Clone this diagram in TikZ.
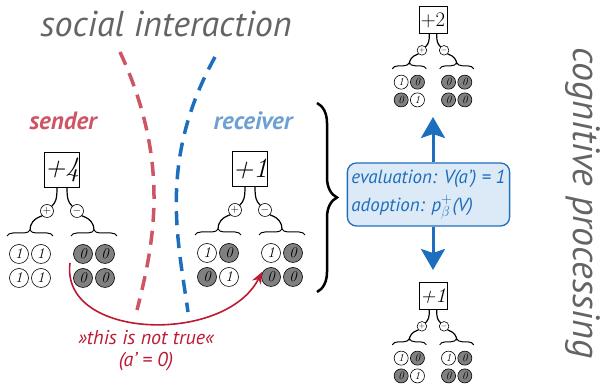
\documentclass[tikz,border=0pt]{standalone}
\usepackage{fontspec}
\setsansfont{PT Sans}
\usetikzlibrary{arrows.meta, decorations.pathreplacing}

\definecolor{talkgray}{RGB}{100,100,100}
\definecolor{sendred}{RGB}{205,85,100}
\definecolor{recvblue}{RGB}{110,160,210}
\definecolor{procblue}{RGB}{30,110,190}
\definecolor{liered}{RGB}{190,25,50}
\definecolor{boxfill}{RGB}{220,233,246}
\colorlet{bitfill0}{black!50}
\colorlet{bitfill1}{white}

\tikzset{
  score/.style={draw, line width=0.8pt, minimum width=34pt, minimum height=35pt, inner sep=0pt, font=\fontsize{28}{28}\selectfont},
  sign/.style={draw, circle, fill=white, minimum size=13pt, inner sep=0pt, line width=0.6pt, font=\fontsize{11}{11}\selectfont},
  bit/.style={draw, circle, fill=bitfill#1, minimum size=19pt, inner sep=0pt, line width=0.6pt, font=\fontsize{15}{15}\selectfont\itshape},
  stem/.style={line width=1.2pt},
  group/.style={decorate, decoration={brace, amplitude=6pt}, line width=1pt},
  big/.style={font=\fontsize{36}{36}\selectfont\sffamily\itshape, text=talkgray},
  role/.style={font=\fontsize{25}{25}\selectfont\sffamily\itshape\bfseries},
  say/.style={font=\fontsize{19}{27}\selectfont\sffamily\itshape},
}

% #1 name, #2 score, #3 upper row, #4 lower row
\newcommand{\valtree}[4]{%
  \node[score] (#1) at (0,0) {#2};
  \node[sign] (#1p) at (-15,-41) {$+$};
  \node[sign] (#1m) at (15,-41) {$-$};
  \coordinate (#1bp) at (-32,-60);
  \coordinate (#1bm) at (32,-60);
  \draw[stem] ([xshift=-5pt]#1.south) .. controls +(0,-11) and +(4,4) .. (#1p.north east);
  \draw[stem] ([xshift=5pt]#1.south) .. controls +(0,-11) and +(-4,4) .. (#1m.north west);
  \draw[stem] (#1p.south west) .. controls +(-9,-3) and +(0,6) .. (#1bp);
  \draw[stem] (#1m.south east) .. controls +(9,-3) and +(0,6) .. (#1bm);
  \draw[group] (-55,-66) -- (-9,-66);
  \draw[group] (9,-66) -- (55,-66);
  \foreach \v [count=\i] in {#3} {
    \pgfmathsetmacro\cx{{-43,-21,21,43}[\i-1]}
    \node[bit=\v] (#1a\i) at (\cx,-84) {\v};
  }
  \foreach \v [count=\i] in {#4} {
    \pgfmathsetmacro\cx{{-43,-21,21,43}[\i-1]}
    \node[bit=\v] (#1b\i) at (\cx,-108) {\v};
  }
}

\begin{document}
\begin{tikzpicture}[x=1pt, y=1pt]
    \useasboundingbox (0,0) rectangle (603,387);

    \node[big, anchor=base] (social) at (166,350) {social interaction};
    \node[big, rotate=-90, font=\fontsize{38}{38}\selectfont\sffamily\itshape] (cognitive) at (583,184) {cognitive processing};
    \node[role, text=sendred, anchor=base] (sender) at (63,257) {sender};
    \node[role, text=recvblue, anchor=base] (receiver) at (253,257) {receiver};

    \draw[sendred, line width=3.5pt, dash pattern=on 14pt off 9pt]
      (120,335) .. controls (170,227) and (155,147) .. (137,77);
    \draw[procblue, line width=3.5pt, dash pattern=on 14pt off 9pt]
      (215,330) .. controls (158,227) and (178,147) .. (188,75);

    \begin{scope}[shift={(62,217)}]
      \valtree{snd}{\textit{+4}}{1,1,0,0}{1,1,0,0}
    \end{scope}
    \begin{scope}[shift={(250,218)}]
      \valtree{rcv}{\textit{+1}}{1,0,1,0}{0,1,0,0}
    \end{scope}
    \begin{scope}[shift={(433,367)}, scale=0.74, transform shape, score/.append style={minimum width=38pt, minimum height=37pt}]
      \valtree{up}{+2}{1,0,0,0}{0,1,0,0}
    \end{scope}
    \begin{scope}[shift={(433,91)}, scale=0.74, transform shape, score/.append style={minimum width=38pt, minimum height=37pt}]
      \valtree{dn}{\textit{+1}}{1,0,1,0}{0,1,0,0}
    \end{scope}

    \draw[decorate, decoration={brace, amplitude=20pt}, line width=2.5pt] (317,284) -- (317,95);

    \node[say, draw=procblue, fill=boxfill, line width=1.3pt, rounded corners=9pt, align=left,
      text=procblue, inner xsep=4pt, minimum height=63pt] (eval) at (428.5,192.5)
      {evaluation: V(a’) = 1\\[1pt]adoption: p$^{+}_{\beta}$(V)};
    \coordinate (upTip) at (433,270);
    \coordinate (downTip) at (433,117);
    \draw[procblue, line width=3pt, -{Stealth[width=24pt, length=21pt, inset=4pt]}] (eval.north -| upTip) -- (upTip);
    \draw[procblue, line width=3pt, -{Stealth[width=24pt, length=21pt, inset=4pt]}] (eval.south -| downTip) -- (downTip);

    \coordinate (lieStart) at (70,124);
    \coordinate (lieEnd) at (262,115);
    \draw[liered, line width=1.6pt, -{Stealth[width=10pt, length=12pt]}]
      (lieStart) .. controls (60,47) and (225,42) .. (lieEnd);
    \node[say, font=\fontsize{20}{20}\selectfont\sffamily\itshape, text=liered] (lie) at (146,49) {»this is not true«};
    \node[say, font=\fontsize{20}{20}\selectfont\sffamily\itshape, text=liered] (lieval) at (146,25) {(a’ = 0)};
\end{tikzpicture}
\end{document}
